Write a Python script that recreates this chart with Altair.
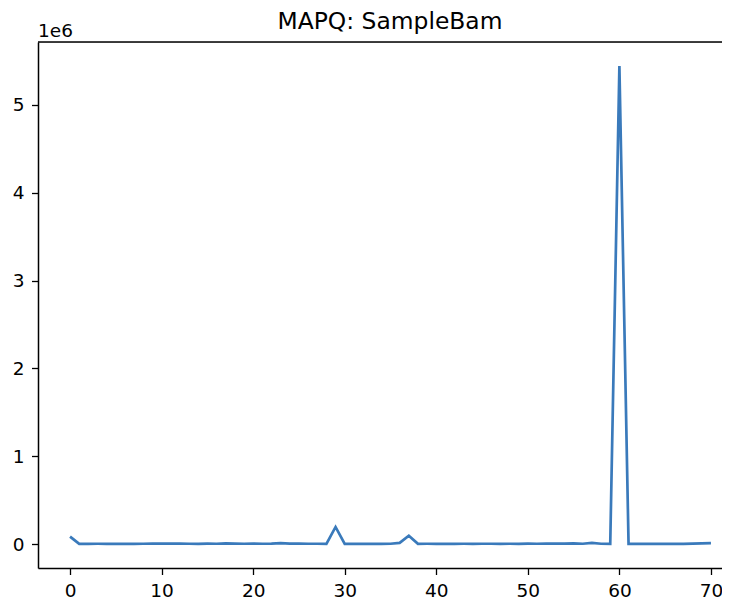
import altair as alt
import pandas as pd

# MAPQ values 0..70 and read counts
mapq = list(range(71))
counts = [
    85000, 3000, 3000, 4000, 3000, 3000, 3000, 3000, 4000, 7000,   # 0-9
    5000, 5000, 5000, 4000, 3000, 6000, 4000, 8000, 5000, 4000,    # 10-19
    5000, 4000, 5000, 12000, 5000, 6000, 4000, 4000, 3000, 195000, # 20-29
    3000, 3000, 3000, 3000, 3000, 4000, 14000, 95000, 3000, 4000,  # 30-39
    3000, 3000, 3000, 4000, 3000, 4000, 4000, 3000, 4000, 3000,    # 40-49
    5000, 4000, 5000, 5000, 6000, 8000, 4000, 14000, 4000, 3000,   # 50-59
    5445000, 2000, 2000, 2000, 2000, 2000, 2000, 3000, 6000, 9000, # 60-69
    12000,                                                          # 70
]
title_text = "MAPQ: SampleBam"
offset_text = "1e6"
x_ticks = [0, 10, 20, 30, 40, 50, 60, 70]
y_ticks = [0, 1000000, 2000000, 3000000, 4000000, 5000000]

df = pd.DataFrame({"mapq": mapq, "count": counts})

W, H = 684, 526
FONT = "DejaVu Sans"
ymax = max(counts)
ymin = 0
pad = 0.05 * (ymax - ymin)
xpx = 705 / 77.0  # matplotlib full axes: -3.5..73.5 over 705 px (cropped on the right)
xdom_max = -3.5 + W / xpx

line = alt.Chart(df).mark_line(color="#3a7abb", strokeWidth=2.7, clip=True).encode(
    x=alt.X(
        "mapq:Q",
        scale=alt.Scale(domain=[-3.5, xdom_max], nice=False, zero=False),
        axis=alt.Axis(
            values=x_ticks, title=None, grid=False, domainColor="black", domainWidth=1.5,
            tickColor="black", tickSize=6.5, tickWidth=1.3, labelPadding=7,
            labelFont=FONT, labelFontSize=18.5, labelColor="black", labelFlush=False,
        ),
    ),
    y=alt.Y(
        "count:Q",
        scale=alt.Scale(domain=[ymin - pad, ymax + pad], nice=False, zero=False),
        axis=alt.Axis(
            values=y_ticks, title=None, grid=False, domainColor="black", domainWidth=1.5,
            tickColor="black", tickSize=6.5, tickWidth=1.3, labelPadding=7.5,
            labelFont=FONT, labelFontSize=18.5, labelColor="black",
            labelExpr="format(datum.value / 1000000, 'd')", labelFlush=False,
        ),
    ),
)

top_spine = alt.Chart(pd.DataFrame({"a": [0]})).mark_rule(color="black", strokeWidth=1.5).encode(
    x=alt.value(0), x2=alt.value(W), y=alt.value(0)
)

offset_label = alt.Chart(pd.DataFrame({"t": [offset_text]})).mark_text(
    align="left", baseline="alphabetic", font=FONT, fontSize=18.5, color="black"
).encode(x=alt.value(0), y=alt.value(-5.5), text="t:N")

title_label = alt.Chart(pd.DataFrame({"t": [title_text]})).mark_text(
    align="center", baseline="alphabetic", font=FONT, fontSize=23.4, color="black"
).encode(x=alt.value(352), y=alt.value(-12.7), text="t:N")

chart = alt.layer(line, top_spine, offset_label, title_label).properties(
    width=W, height=H,
    autosize=alt.AutoSizeParams(type="none"),
    padding={"left": 30, "top": 34, "right": 0, "bottom": 30},
).configure_view(stroke=None).configure(background="white")

chart.save("out.html", embed_options={"renderer": "svg", "actions": False})
